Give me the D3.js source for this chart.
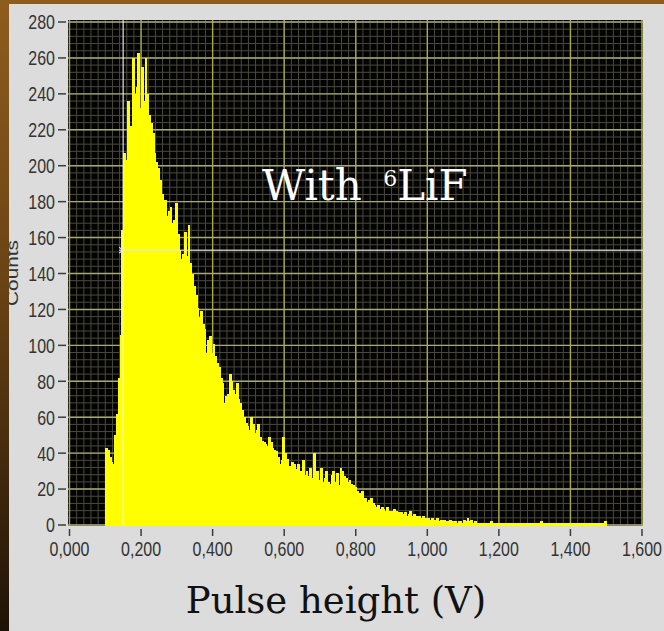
<!DOCTYPE html>
<html>
<head>
<meta charset="utf-8">
<script src="https://cdn.jsdelivr.net/npm/d3@7"></script>
<style>
  html, body { margin: 0; padding: 0; background: #dcdcdc; }
  svg { display: block; }
</style>
</head>
<body>
<svg id="chart" width="664" height="631"></svg>
<script>
// Pulse-height spectrum, 5 mV bins starting at 0.100 V
const binStart = 0.100;
const binWidth = 0.005;
const counts = [
  // 0.100 - 0.195
  43, 42, 38, 35, 34, 50, 62, 82, 106, 164, 207, 203, 236, 214, 222, 260, 240, 244, 263, 232,
  // 0.200 - 0.295
  255, 236, 260, 240, 228, 224, 218, 207, 202, 199, 192, 184, 176, 181, 172, 175, 177, 168, 170, 179,
  // 0.300 - 0.395
  162, 153, 148, 151, 163, 150, 167, 146, 140, 133, 128, 121, 116, 119, 112, 109, 96, 103, 105, 96,
  // 0.400 - 0.495
  101, 94, 90, 88, 82, 79, 68, 72, 73, 84, 80, 75, 73, 79, 70, 68, 64, 60, 57, 55,
  // 0.500 - 0.595
  53, 60, 56, 51, 53, 56, 49, 47, 46, 45, 44, 49, 46, 43, 42, 41, 38, 34, 36, 49,
  // 0.600 - 0.695
  40, 37, 33, 32, 35, 34, 31, 34, 29, 30, 36, 28, 30, 27, 32, 26, 40, 28, 30, 25,
  // 0.700 - 0.795
  32, 24, 26, 30, 24, 23, 28, 30, 24, 29, 22, 32, 30, 27, 26, 24, 25, 23, 22, 21,
  // 0.800 - 0.895
  19, 17, 18, 19, 15, 15, 13, 14, 15, 12, 11, 10, 11, 9, 10, 9, 8, 10, 8, 8,
  // 0.900 - 0.995
  7, 9, 8, 7, 6, 7, 6, 7, 5, 6, 8, 5, 6, 5, 4, 5, 4, 5, 4, 3,
  // 1.000 - 1.095
  4, 3, 4, 3, 3, 4, 2, 3, 2, 3, 2, 2, 3, 2, 2, 2, 1, 2, 2, 1,
  // 1.100 - 1.195
  3, 2, 4, 2, 3, 1, 2, 1, 1, 1, 1, 1, 1, 1, 1, 2, 1, 1, 1, 1,
  // 1.200 - 1.295
  1, 1, 1, 1, 1, 1, 1, 1, 1, 1, 1, 1, 1, 1, 1, 1, 1, 1, 1, 1,
  // 1.300 - 1.395
  1, 1, 1, 2, 1, 1, 1, 1, 1, 1, 1, 1, 1, 1, 1, 1, 1, 1, 1, 1,
  // 1.400 - 1.495
  1, 1, 1, 1, 1, 1, 1, 1, 1, 1, 1, 1, 1, 1, 1, 1, 1, 1, 1, 2
];

const xTicks = [0, 0.2, 0.4, 0.6, 0.8, 1.0, 1.2, 1.4, 1.6];
const xTickLabels = ["0,000", "0,200", "0,400", "0,600", "0,800", "1,000", "1,200", "1,400", "1,600"];
const yTicks = [0, 20, 40, 60, 80, 100, 120, 140, 160, 180, 200, 220, 240, 260, 280];
const xMinorStep = [0.02];
const yMinorStep = [4];

// cursor crosshair position (V, counts)
const cursorX = [0.150];
const cursorY = [153];

const svg = d3.select("#chart");
const W = 664, H = 631;

// plot frame
const plot = { left: 68, right: 643, top: 20, bottom: 526 };
const x = d3.scaleLinear().domain([0, 1.6]).range([69.5, 642]);
const y = d3.scaleLinear().domain([0, 280]).range([525, 22]);

// panel background
svg.append("rect").attr("x", 0).attr("y", 0).attr("width", W).attr("height", H).attr("fill", "#dcdcdc");

// plot area
svg.append("rect")
  .attr("x", plot.left).attr("y", plot.top)
  .attr("width", plot.right - plot.left).attr("height", plot.bottom - plot.top)
  .attr("fill", "#030304");

const clip = svg.append("defs").append("clipPath").attr("id", "plotClip");
clip.append("rect")
  .attr("x", plot.left).attr("y", plot.top)
  .attr("width", plot.right - plot.left).attr("height", plot.bottom - plot.top);

const gPlot = svg.append("g").attr("clip-path", "url(#plotClip)");

// minor grid
const xMinor = d3.range(0, 1.6 + 1e-9, xMinorStep[0]);
const yMinor = d3.range(0, 280 + 1e-9, yMinorStep[0]);
gPlot.append("g").selectAll("line").data(xMinor).join("line")
  .attr("x1", d => x(d)).attr("x2", d => x(d))
  .attr("y1", plot.top).attr("y2", plot.bottom)
  .attr("stroke", "#4a4a3c").attr("stroke-width", 1);
gPlot.append("g").selectAll("line").data(yMinor).join("line")
  .attr("y1", d => y(d)).attr("y2", d => y(d))
  .attr("x1", plot.left).attr("x2", plot.right)
  .attr("stroke", "#4a4a3c").attr("stroke-width", 1);

// major grid
gPlot.append("g").selectAll("line").data(xTicks).join("line")
  .attr("x1", d => x(d)).attr("x2", d => x(d))
  .attr("y1", plot.top).attr("y2", plot.bottom)
  .attr("stroke", "#a8a845").attr("stroke-width", 1.4);
gPlot.append("g").selectAll("line").data(yTicks).join("line")
  .attr("y1", d => y(d)).attr("y2", d => y(d))
  .attr("x1", plot.left).attr("x2", plot.right)
  .attr("stroke", "#a8a878").attr("stroke-width", 1.4);

// histogram bars
gPlot.append("g").attr("shape-rendering", "crispEdges")
  .selectAll("rect").data(counts).join("rect")
  .attr("x", (d, i) => x(binStart + i * binWidth))
  .attr("width", (d, i) => x(binStart + (i + 1) * binWidth) - x(binStart + i * binWidth) + 1)
  .attr("y", d => y(d))
  .attr("height", d => y(0) - y(d) + 1)
  .attr("fill", "#ffff00");

// cursor lines
gPlot.append("line")
  .attr("x1", x(cursorX[0])).attr("x2", x(cursorX[0]))
  .attr("y1", plot.top).attr("y2", plot.bottom)
  .attr("stroke", "#f0f0f0").attr("stroke-opacity", 0.75).attr("stroke-width", 1.5);
gPlot.append("line")
  .attr("x1", x(cursorX[0]) - 4).attr("x2", plot.right)
  .attr("y1", y(cursorY[0])).attr("y2", y(cursorY[0]))
  .attr("stroke", "#e6e6e6").attr("stroke-opacity", 0.8).attr("stroke-width", 1.5);
gPlot.append("path")
  .attr("d", `M${x(cursorX[0]) - 4},${y(cursorY[0]) - 3} L${x(cursorX[0]) - 0.5},${y(cursorY[0])} L${x(cursorX[0]) - 4},${y(cursorY[0]) + 3}`)
  .attr("fill", "none").attr("stroke", "#e8e8e8").attr("stroke-width", 1.2);

// axes: ticks and labels
const tickColor = "#3c3c3c";
const labelFont = "'Liberation Sans', Arial, sans-serif";

const yAxis = svg.append("g");
yAxis.selectAll("line").data(yTicks).join("line")
  .attr("x1", 58).attr("x2", 66)
  .attr("y1", d => y(d)).attr("y2", d => y(d))
  .attr("stroke", tickColor).attr("stroke-width", 1.5);
yAxis.selectAll("text").data(yTicks).join("text")
  .attr("transform", d => `translate(55, ${y(d) + 7.4}) scale(1,1.32)`)
  .attr("text-anchor", "end")
  .attr("font-family", labelFont).attr("font-size", 16)
  .attr("fill", "#333")
  .text(d => d);

const xAxis = svg.append("g");
xAxis.selectAll("line").data(xTicks).join("line")
  .attr("x1", d => x(d)).attr("x2", d => x(d))
  .attr("y1", 529).attr("y2", 536)
  .attr("stroke", tickColor).attr("stroke-width", 1.5);
xAxis.selectAll("text").data(xTicks).join("text")
  .attr("transform", d => `translate(${x(d)}, 555.5) scale(1,1.32)`)
  .attr("text-anchor", "middle")
  .attr("font-family", labelFont).attr("font-size", 16)
  .attr("fill", "#333")
  .text((d, i) => xTickLabels[i]);

// y axis title
svg.append("text")
  .attr("transform", "translate(17.5, 273) rotate(-90) scale(1.3,1)")
  .attr("text-anchor", "middle")
  .attr("font-family", labelFont).attr("font-size", 16)
  .attr("fill", "#333")
  .text("Counts");

// x axis title
svg.append("text")
  .attr("x", 336).attr("y", 613)
  .attr("text-anchor", "middle")
  .attr("font-family", "'DejaVu Serif', serif").attr("font-size", 37)
  .attr("fill", "#111")
  .text("Pulse height (V)");

// annotation
const note = svg.append("text")
  .attr("x", 262).attr("y", 200)
  .attr("font-family", "'DejaVu Serif', serif").attr("font-size", 42)
  .attr("fill", "#ffffff");
note.append("tspan").text("With ");
note.append("tspan").attr("font-size", 22).attr("dy", -14).attr("dx", 8).text("6");
note.append("tspan").attr("dy", 14).text("LiF");

// slide frame: brown edges
const grad = svg.append("defs").append("linearGradient")
  .attr("id", "edgeGrad").attr("x1", 0).attr("y1", 0).attr("x2", 0).attr("y2", 1);
grad.append("stop").attr("offset", "0%").attr("stop-color", "#8e5d1e");
grad.append("stop").attr("offset", "45%").attr("stop-color", "#6a4314");
grad.append("stop").attr("offset", "100%").attr("stop-color", "#1e1307");
svg.append("rect").attr("x", 0).attr("y", 0).attr("width", 9).attr("height", H).attr("fill", "url(#edgeGrad)");
svg.append("rect").attr("x", 0).attr("y", 0).attr("width", W).attr("height", 4).attr("fill", "#8e5d1e");
</script>
</body>
</html>
